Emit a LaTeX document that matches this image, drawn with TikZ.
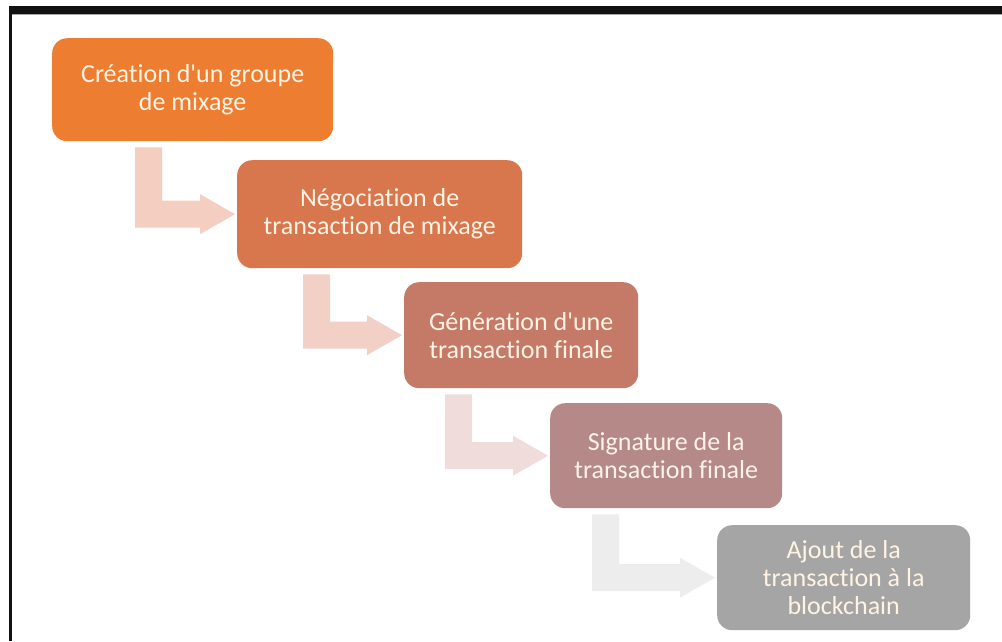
\documentclass[tikz,border=0pt]{standalone}
\usepackage{fontspec}
\setmainfont{Carlito}[Ligatures={NoCommon}]
\usetikzlibrary{calc}

\definecolor{stepA}{RGB}{237,125,49}
\definecolor{stepB}{RGB}{216,118,78}
\definecolor{stepC}{RGB}{197,122,104}
\definecolor{stepD}{RGB}{180,137,136}
\definecolor{stepE}{RGB}{165,165,165}
\definecolor{arrA}{RGB}{244,206,192}
\definecolor{arrB}{RGB}{242,208,198}
\definecolor{arrC}{RGB}{240,220,218}
\definecolor{arrD}{RGB}{238,237,237}
\definecolor{labeltext}{RGB}{255,243,228}

\tikzset{
  stepbox/.style={rectangle, rounded corners=15pt, anchor=north west,
    align=center, text=labeltext, inner sep=0pt,
    font=\fontsize{26}{28}\selectfont},
}

% Bent "down then right" arrow from the bottom of one box to the left side of the next
% #1 source node, #2 target node, #3 stem offset from source's left edge, #4 colour
\newcommand{\bentarrow}[4]{%
  \fill[#4] let \p1=(#1.south west), \p2=(#2.west) in
    (\x1+#3pt, \y1-6pt) -- (\x1+#3pt+27pt, \y1-6pt) -- (\x1+#3pt+27pt, \y2+13.5pt)
    -- (\x2-37pt, \y2+13.5pt) -- (\x2-37pt, \y2+20pt) -- (\x2-2pt, \y2)
    -- (\x2-37pt, \y2-20pt) -- (\x2-37pt, \y2-13.5pt) -- (\x1+#3pt, \y2-13.5pt) -- cycle;
}

\begin{document}
\begin{tikzpicture}[x=1pt, y=-1pt]
  \useasboundingbox (0,0) rectangle (1002,641);
  \fill[white] (0,0) rectangle (1002,641);

  % frame edges
  \fill[black!93] (9,6) rectangle (1002,14);
  \fill[black!35] (12,14) rectangle (1002,15);
  \fill[black!93] (9,6) rectangle (12,641);

  % process steps
  \node[stepbox, fill=stepA, minimum width=281pt, minimum height=103pt] (s1) at (52,38)
    {Création d\textquotesingle un groupe\\de mixage};
  \node[stepbox, fill=stepB, minimum width=285pt, minimum height=108pt] (s2) at (237,160)
    {Négociation de\\transaction de mixage};
  \node[stepbox, fill=stepC, minimum width=234pt, minimum height=106pt] (s3) at (404,282)
    {Génération d\textquotesingle une\\transaction finale};
  \node[stepbox, fill=stepD, minimum width=232pt, minimum height=105pt] (s4) at (550,403)
    {Signature de la\\transaction finale};
  \node[stepbox, fill=stepE, minimum width=253pt, minimum height=105pt] (s5) at (717,525)
    {Ajout de la\\transaction à la\\blockchain};

  % connecting arrows
  \bentarrow{s1}{s2}{83}{arrA}
  \bentarrow{s2}{s3}{66}{arrB}
  \bentarrow{s3}{s4}{41}{arrC}
  \bentarrow{s4}{s5}{42}{arrD}
\end{tikzpicture}
\end{document}
